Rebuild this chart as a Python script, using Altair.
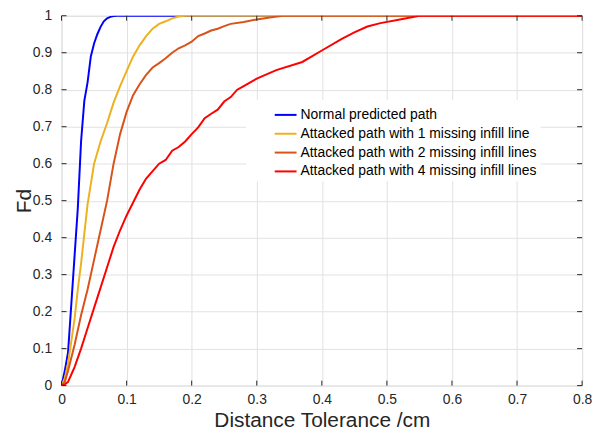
import altair as alt
import pandas as pd

series_names = [
    "Normal predicted path",
    "Attacked path with 1 missing infill line",
    "Attacked path with 2 missing infill lines",
    "Attacked path with 4 missing infill lines",
]
series_colors = ["#0000FF", "#EDB120", "#D95319", "#FF0000"]

blue_x = [0, 0.005, 0.01, 0.015, 0.02, 0.025, 0.03, 0.035, 0.04, 0.045, 0.05, 0.055, 0.06,
          0.065, 0.07, 0.075, 0.08, 0.085, 0.09, 0.8]
blue_y = [0, 0.04, 0.09, 0.22, 0.35, 0.48, 0.66, 0.77, 0.82, 0.89, 0.925, 0.95, 0.97,
          0.985, 0.993, 0.997, 0.999, 1, 1, 1]

yellow_x = [0, 0.005, 0.01, 0.015, 0.02, 0.025, 0.03, 0.035, 0.04, 0.05, 0.06, 0.07, 0.08,
            0.09, 0.1, 0.11, 0.12, 0.13, 0.14, 0.15, 0.16, 0.17, 0.18, 0.19, 0.8]
yellow_y = [0, 0.02, 0.06, 0.12, 0.18, 0.26, 0.33, 0.41, 0.49, 0.6, 0.66, 0.71, 0.765,
            0.81, 0.85, 0.89, 0.92, 0.945, 0.965, 0.978, 0.985, 0.993, 0.998, 1, 1]

orange_x = [0, 0.005, 0.01, 0.02, 0.03, 0.04, 0.05, 0.06, 0.07, 0.08, 0.09, 0.1, 0.11, 0.12,
            0.13, 0.14, 0.15, 0.16, 0.17, 0.18, 0.19, 0.2, 0.21, 0.22, 0.23, 0.24, 0.25, 0.26,
            0.28, 0.3, 0.32, 0.34, 0.8]
orange_y = [0, 0.01, 0.04, 0.11, 0.19, 0.26, 0.34, 0.42, 0.5, 0.6, 0.68, 0.74, 0.785, 0.815,
            0.84, 0.86, 0.872, 0.885, 0.9, 0.912, 0.92, 0.93, 0.945, 0.952, 0.96, 0.965, 0.972,
            0.978, 0.983, 0.99, 0.995, 1, 1]

red_x = [0, 0.005, 0.01, 0.015, 0.02, 0.03, 0.04, 0.05, 0.06, 0.07, 0.08, 0.09, 0.1, 0.11,
         0.12, 0.13, 0.14, 0.15, 0.16, 0.17, 0.18, 0.19, 0.2, 0.21, 0.22, 0.23, 0.24, 0.25,
         0.26, 0.27, 0.28, 0.29, 0.3, 0.33, 0.37, 0.4, 0.43, 0.45, 0.47, 0.49, 0.52, 0.55, 0.8]
red_y = [0, 0.003, 0.01, 0.03, 0.05, 0.1, 0.155, 0.21, 0.265, 0.32, 0.375, 0.42, 0.46, 0.495,
         0.53, 0.56, 0.58, 0.6, 0.61, 0.635, 0.645, 0.66, 0.68, 0.698, 0.723, 0.735, 0.746,
         0.768, 0.78, 0.8, 0.81, 0.82, 0.83, 0.853, 0.875, 0.906, 0.937, 0.955, 0.971, 0.98,
         0.99, 1, 1]

x_ticks = [0, 0.1, 0.2, 0.3, 0.4, 0.5, 0.6, 0.7, 0.8]
y_ticks = [0, 0.1, 0.2, 0.3, 0.4, 0.5, 0.6, 0.7, 0.8, 0.9, 1]

rows = []
for name, xs, ys in zip(series_names,
                        [blue_x, yellow_x, orange_x, red_x],
                        [blue_y, yellow_y, orange_y, red_y]):
    for i, (a, b) in enumerate(zip(xs, ys)):
        rows.append({"series": name, "x": a, "y": b, "order": i})
df = pd.DataFrame(rows)

W, H = 525, 373
FONT = "Liberation Sans"
AX = "#262626"

xscale = alt.Scale(domain=[0, 0.8], nice=False, zero=False)
yscale = alt.Scale(domain=[0, 1], nice=False, zero=False)

x_axis = alt.Axis(values=x_ticks, format="~g", title="Distance Tolerance /cm",
                  grid=True, gridColor="#e2e2e2", ticks=False, domain=False,
                  labelFlush=False, labelOverlap=False, labelPadding=7,
                  labelFontSize=14, labelColor=AX, labelFont=FONT, titleFont=FONT,
                  titleFontSize=21, titleFontWeight="normal", titleColor=AX,
                  titleY=35.5, titleBaseline="middle")
y_axis = alt.Axis(values=y_ticks, format="~g", title="Fd",
                  grid=True, gridColor="#e2e2e2", ticks=False, domain=False,
                  labelFlush=False, labelOverlap=False, labelPadding=10,
                  labelFontSize=14, labelColor=AX, labelFont=FONT, titleFont=FONT,
                  titleFontSize=21, titleFontWeight="normal", titleColor=AX,
                  titleX=-37, titleY=H / 2, titleAngle=-90,
                  titleAlign="center", titleBaseline="middle")

lines = alt.Chart(df).mark_line(strokeWidth=2, clip=True).encode(
    x=alt.X("x:Q", scale=xscale, axis=x_axis),
    y=alt.Y("y:Q", scale=yscale, axis=y_axis),
    color=alt.Color("series:N", sort=series_names,
                    scale=alt.Scale(domain=series_names, range=series_colors),
                    legend=alt.Legend(title=None, orient="none", legendX=186, legendY=85,
                                      fillColor="white", padding=3, symbolType="stroke",
                                      symbolSize=484, symbolStrokeWidth=2,
                                      symbolOffset=25, labelOffset=3, rowPadding=-4.3,
                                      labelFontSize=14, labelFont=FONT, labelColor="#000000",
                                      labelLimit=500)),
    order="order:Q",
)

xt = pd.DataFrame({"t": x_ticks})
yt = pd.DataFrame({"t": y_ticks})
tick_style = dict(color=AX, strokeWidth=1)
bottom_ticks = alt.Chart(xt).mark_rule(**tick_style).encode(
    x=alt.X("t:Q", scale=xscale, axis=x_axis), y=alt.value(H), y2=alt.value(H - 5))
top_ticks = alt.Chart(xt).mark_rule(**tick_style).encode(
    x=alt.X("t:Q", scale=xscale, axis=x_axis), y=alt.value(0), y2=alt.value(5))
left_ticks = alt.Chart(yt).mark_rule(**tick_style).encode(
    y=alt.Y("t:Q", scale=yscale, axis=y_axis), x=alt.value(0), x2=alt.value(5))
right_ticks = alt.Chart(yt).mark_rule(**tick_style).encode(
    y=alt.Y("t:Q", scale=yscale, axis=y_axis), x=alt.value(W), x2=alt.value(W - 5))

chart = alt.layer(lines, bottom_ticks, top_ticks, left_ticks, right_ticks).properties(
    width=W, height=H,
    autosize=alt.AutoSizeParams(type="none"),
    padding={"left": 54, "top": 6, "right": 12, "bottom": 46},
).configure_view(stroke=AX, strokeWidth=1).configure(background="white")

chart.save("out.html", embed_options={"renderer": "svg", "actions": False})
